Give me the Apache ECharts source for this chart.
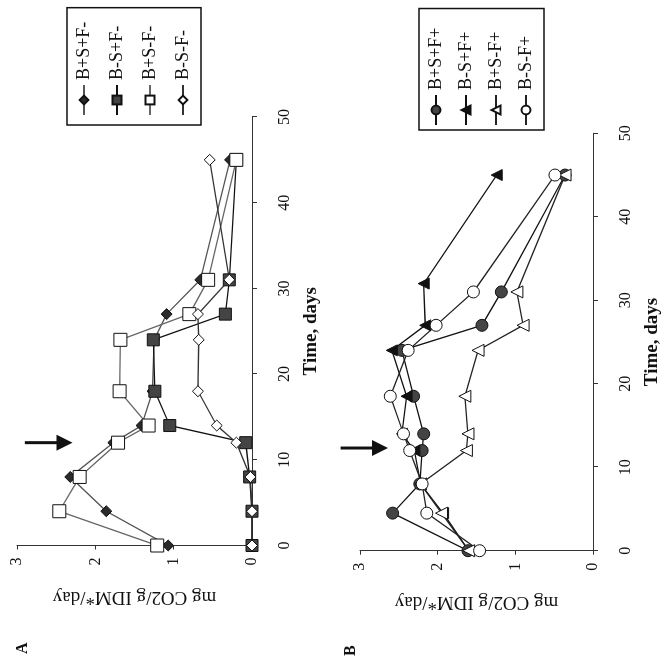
<!DOCTYPE html>
<html>
<head>
<meta charset="utf-8">
<script src="https://cdn.jsdelivr.net/npm/echarts@6/dist/echarts.min.js"></script>
<style>
  html, body { margin: 0; padding: 0; background: #fff; }
  body { width: 662px; height: 661px; overflow: hidden; position: relative; }
  #chart { position: absolute; left: 0; top: 0; width: 662px; height: 662px;
           transform: rotate(-90deg); transform-origin: 50% 50%; }
</style>
</head>
<body>
<div id="chart"></div>
<script>
// ---- data (time in days, mg CO2 / g IDM / day) ----
const namesA = ['B+S+F-', 'B-S+F-', 'B+S-F-', 'B-S-F-'];
const namesB = ['B+S+F+', 'B-S+F+', 'B+S-F+', 'B-S-F+'];

const daysA = [0, 4, 8, 12, 14, 18, 24, 27, 31, 45];
const a_BpSpFm = [1.07, 1.86, 2.32, 1.77, 1.41, 1.27, 1.25, 1.09, 0.66, 0.28];
const a_BmSpFm = [0.00, 0.00, 0.03, 0.08, 1.05, 1.24, 1.26, 0.34, 0.29, 0.20];
const a_BpSmFm = [1.21, 2.46, 2.20, 1.71, 1.32, 1.69, 1.68, 0.80, 0.56, 0.20];
const a_BmSmFm = [0.00, 0.00, 0.02, 0.20, 0.45, 0.69, 0.68, 0.69, 0.29, 0.54];

const daysB  = [0, 4.5, 8, 12, 14, 18.5, 24, 27, 31, 45];
const daysB2 = [0, 4.5, 8, 12, 14, 18.5, 24, 27, 32, 45];
const b_BpSpFp = [1.61, 2.58, 2.23, 2.20, 2.18, 2.31, 2.46, 1.43, 1.18, 0.36];
const b_BmSpFp = [1.60, 1.93, 2.22, 2.30, 2.46, 2.40, 2.59, 2.16, 2.18, 1.24];
const b_BpSmFp = [1.60, 1.95, 2.22, 1.63, 1.61, 1.65, 1.48, 0.90, 0.98, 0.36];
const b_BmSmFp = [1.46, 2.14, 2.20, 2.36, 2.44, 2.61, 2.38, 2.02, 1.54, 0.49];

// arrows: [day, from value, to value]
const arrowA = [12, 2.90, 2.29];
const arrowB = [12.3, 3.25, 2.64];

const timeTicks = [0, 10, 20, 30, 40, 50];
const valueTicks = [0, 1, 2, 3];
const yName = 'mg CO2/g IDM*/day';
const xName = 'Time, days';

// ---- build ----
const FONT = "'Liberation Serif', 'DejaVu Serif', serif";
const pairs = (d, v) => d.map((t, i) => [t, v[i]]);

function mkSeries(name, days, vals, gi, symbol, size, fill, lineColor) {
  return {
    type: 'line', name: name, xAxisIndex: gi, yAxisIndex: gi,
    data: pairs(days, vals),
    symbol: symbol, symbolSize: size, showAllSymbol: true, clip: false,
    itemStyle: { color: fill, borderColor: '#111', borderWidth: 1 },
    lineStyle: { color: lineColor, width: 1.3 },
    emphasis: { disabled: true }, animation: false
  };
}

function arrowSeries(gi, arrow) {
  return {
    type: 'custom', name: 'arrow' + gi, xAxisIndex: gi, yAxisIndex: gi,
    clip: false, silent: true, animation: false,
    data: [arrow],
    renderItem: function (params, api) {
      const p0 = api.coord([api.value(0), api.value(1)]);
      const p1 = api.coord([api.value(0), api.value(2)]);
      const dx = p1[0] - p0[0], dy = p1[1] - p0[1];
      const len = Math.sqrt(dx * dx + dy * dy) || 1;
      const ux = dx / len, uy = dy / len, px = -uy, py = ux;
      const head = 16, half = 8;
      const bx = p1[0] - ux * head, by = p1[1] - uy * head;
      return {
        type: 'group',
        children: [
          { type: 'line', shape: { x1: p0[0], y1: p0[1], x2: bx + ux * 2, y2: by + uy * 2 },
            style: { stroke: '#111', lineWidth: 3 } },
          { type: 'polygon', shape: { points: [[p1[0], p1[1]], [bx + px * half, by + py * half], [bx - px * half, by - py * half]] },
            style: { fill: '#111' } }
        ]
      };
    }
  };
}

function xAxisCfg(gi) {
  return {
    type: 'value', gridIndex: gi, min: timeTicks[0], max: timeTicks[timeTicks.length - 1],
    interval: timeTicks[1] - timeTicks[0],
    name: xName, nameLocation: 'middle', nameGap: 50,
    nameTextStyle: { fontFamily: FONT, fontSize: 19, fontWeight: 'bold', color: '#111' },
    axisLine: { show: true, onZero: false, lineStyle: { color: '#333', width: 1 } },
    axisTick: { show: true, inside: false, length: 5, lineStyle: { color: '#333' } },
    axisLabel: { fontFamily: FONT, fontSize: 16, color: '#111', margin: 25 },
    splitLine: { show: false }
  };
}
function yAxisCfg(gi) {
  return {
    type: 'value', gridIndex: gi, min: valueTicks[0], max: valueTicks[valueTicks.length - 1],
    interval: valueTicks[1] - valueTicks[0],
    name: yName, nameLocation: 'middle', nameGap: 42, nameRotate: 90,
    nameTextStyle: { fontFamily: FONT, fontSize: 19, color: '#111' },
    axisLine: { show: true, onZero: false, lineStyle: { color: '#333', width: 1 } },
    axisTick: { show: true, inside: false, length: 4, lineStyle: { color: '#333' } },
    axisLabel: { fontFamily: FONT, fontSize: 16, color: '#111', margin: 12 },
    splitLine: { show: false }
  };
}
function legendCfg(names, left, top, gap, padLeft, padRight) {
  return {
    data: names, orient: 'vertical', left: left, top: top,
    itemGap: gap, itemWidth: 30, itemHeight: 11,
    padding: [7, padRight, 8, padLeft],
    borderColor: '#111', borderWidth: 1.5, borderRadius: 0,
    selectedMode: false,
    textStyle: { fontFamily: FONT, fontSize: 18, color: '#111', lineHeight: 20 }
  };
}

const option = {
  backgroundColor: '#fff',
  animation: false,
  grid: [
    { left: 116.5, right: 117, top: 17, height: 235, outerBoundsMode: 'none', containLabel: false },
    { left: 111.3, right: 133.3, top: 360, height: 233, outerBoundsMode: 'none', containLabel: false }
  ],
  xAxis: [xAxisCfg(0), xAxisCfg(1)],
  yAxis: [yAxisCfg(0), yAxisCfg(1)],
  legend: [
    legendCfg(namesA, 537, 67, 13, 9, 14),
    legendCfg(namesB, 532, 419, 10, 4, 19)
  ],
  graphic: [
    { type: 'text', left: 8, top: 15, style: { text: 'A', fontFamily: FONT, fontSize: 16, fontWeight: 'bold', fill: '#111' } },
    { type: 'text', left: 6, top: 343, style: { text: 'B', fontFamily: FONT, fontSize: 16, fontWeight: 'bold', fill: '#111' } }
  ],
  series: [
    mkSeries(namesA[0], daysA, a_BpSpFm, 0, 'diamond', 11, '#2a2a2a', '#555'),
    mkSeries(namesA[1], daysA, a_BmSpFm, 0, 'rect', 12, '#444', '#111'),
    mkSeries(namesA[2], daysA, a_BpSmFm, 0, 'rect', 13, '#fff', '#666'),
    mkSeries(namesA[3], daysA, a_BmSmFm, 0, 'diamond', 11, '#fff', '#333'),
    mkSeries(namesB[0], daysB, b_BpSpFp, 1, 'circle', 12, '#444', '#111'),
    mkSeries(namesB[1], daysB2, b_BmSpFp, 1, 'triangle', 11, '#111', '#111'),
    mkSeries(namesB[2], daysB, b_BpSmFp, 1, 'triangle', 12, '#fff', '#222'),
    mkSeries(namesB[3], daysB, b_BmSmFp, 1, 'circle', 12, '#fff', '#222'),
    arrowSeries(0, arrowA),
    arrowSeries(1, arrowB)
  ]
};

const chart = echarts.init(document.getElementById('chart'), null, { renderer: 'canvas' });
chart.setOption(option);
</script>
</body>
</html>
